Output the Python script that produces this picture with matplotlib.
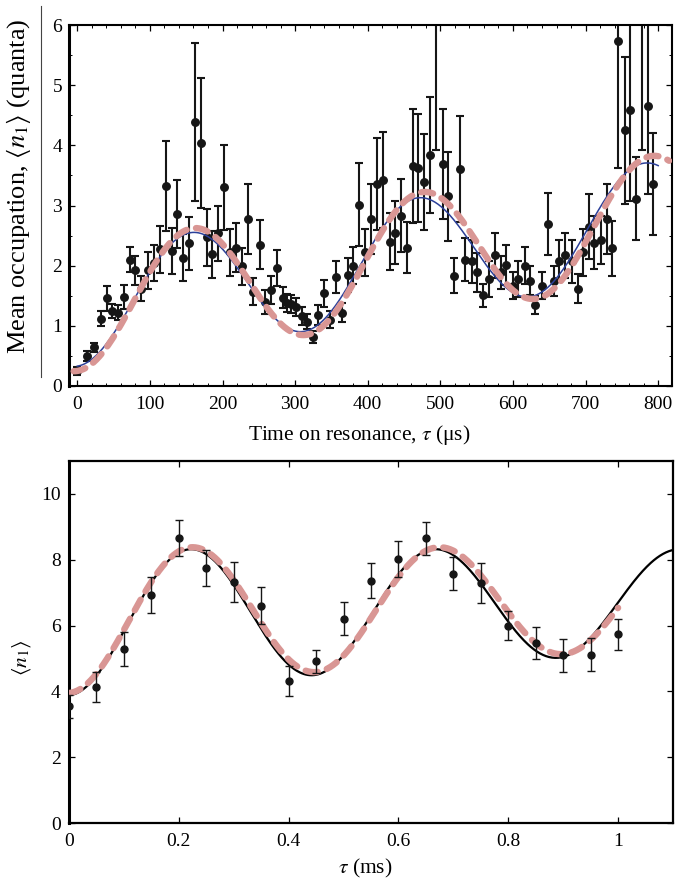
import numpy as np
import matplotlib
matplotlib.use("Agg")
import matplotlib.pyplot as plt
from matplotlib.ticker import MultipleLocator, FixedLocator
from matplotlib.lines import Line2D

plt.rcParams['font.family'] = ['Liberation Serif', 'DejaVu Serif']
plt.rcParams['mathtext.fontset'] = 'stix'

# ---------------- upper panel: mean occupation vs. time on resonance ----------------
tau_us = [0, 14, 23, 32, 41, 48, 56, 64, 73, 80, 88, 98, 105, 114, 122, 130, 138, 146,
          154, 162, 170, 178, 186, 194, 202, 210, 218, 227, 235, 242, 251, 259, 267,
          275, 283, 289, 295, 301, 309, 316, 324, 332, 340, 348, 356, 364, 373, 380,
          388, 396, 404, 413, 421, 430, 437, 446, 454, 462, 469, 478, 486, 494, 503,
          511, 519, 527, 534, 543, 551, 559, 567, 575, 583, 591, 600, 607, 616, 623,
          631, 640, 648, 656, 664, 672, 681, 689, 697, 705, 712, 721, 729, 737, 745,
          754, 761, 770, 778, 786, 793]
n_top = [0.25, 0.50, 0.64, 1.12, 1.46, 1.25, 1.22, 1.48, 2.10, 1.92, 1.62, 1.92, 2.05,
         2.27, 3.32, 2.24, 2.86, 2.13, 2.37, 4.39, 4.04, 2.47, 2.19, 2.54, 3.30, 2.22,
         2.30, 1.99, 2.78, 1.57, 2.35, 1.40, 1.59, 1.96, 1.47, 1.38, 1.36, 1.32, 1.17,
         1.07, 0.81, 1.18, 1.54, 1.10, 1.81, 1.22, 1.84, 2.00, 3.01, 2.22, 2.78, 3.36,
         3.42, 2.40, 2.55, 2.83, 2.30, 3.66, 3.62, 3.39, 3.84, 6.40, 3.69, 3.15, 1.83,
         3.60, 2.10, 2.07, 1.89, 1.51, 1.78, 2.17, 1.89, 2.01, 1.67, 1.78, 2.00, 1.75,
         1.34, 1.67, 2.69, 1.75, 2.08, 2.17, 2.07, 1.62, 2.22, 2.65, 2.38, 2.43, 2.77,
         2.29, 5.73, 4.25, 4.58, 3.11, 6.30, 4.66, 3.36]
n_top_err = [0.06, 0.08, 0.08, 0.13, 0.21, 0.12, 0.13, 0.20, 0.21, 0.24, 0.21, 0.30, 0.30,
             0.39, 0.75, 0.38, 0.56, 0.39, 0.44, 1.31, 1.08, 0.47, 0.39, 0.46, 0.70, 0.39,
             0.41, 0.31, 0.58, 0.22, 0.41, 0.20, 0.23, 0.30, 0.18, 0.15, 0.15, 0.15, 0.15,
             0.12, 0.10, 0.16, 0.22, 0.14, 0.27, 0.16, 0.28, 0.31, 0.69, 0.39, 0.58, 0.77,
             0.80, 0.48, 0.52, 0.61, 0.42, 0.95, 0.90, 0.80, 0.97, 2.47, 0.92, 0.74, 0.29,
             0.88, 0.36, 0.35, 0.32, 0.19, 0.30, 0.37, 0.27, 0.33, 0.22, 0.30, 0.31, 0.24,
             0.15, 0.22, 0.51, 0.25, 0.35, 0.37, 0.35, 0.24, 0.39, 0.54, 0.44, 0.40, 0.58,
             0.46, 2.11, 1.22, 1.50, 0.69, 2.38, 1.47, 0.85]

# heating + sideband-exchange fit: n(t) = a + b t + A (1 - cos(2 pi t / P)) / 2
fit_solid_top = dict(a=0.33, b=0.00185, A=1.93, P=312.0, t0=0.0, t1=800.0)
fit_dashed_top = dict(a=0.25, b=0.0019, A=2.07, P=316.0, t0=-5.0, t1=815.0)

# ---------------- lower panel ----------------
tau_ms = [0.0, 0.05, 0.10, 0.15, 0.20, 0.25, 0.30, 0.35, 0.40, 0.45, 0.50,
          0.55, 0.60, 0.65, 0.70, 0.75, 0.80, 0.85, 0.90, 0.95, 1.00]
n_bot = [3.55, 4.14, 5.29, 6.93, 8.66, 7.74, 7.32, 6.60, 4.31, 4.92, 6.21,
         7.36, 8.03, 8.65, 7.58, 7.30, 6.00, 5.47, 5.10, 5.12, 5.73]
n_bot_err = [0.35, 0.46, 0.51, 0.54, 0.56, 0.55, 0.60, 0.56, 0.45, 0.35, 0.51,
             0.53, 0.55, 0.50, 0.51, 0.61, 0.43, 0.50, 0.50, 0.50, 0.46]

# damped exchange model: n(t) = n_max - D exp(-t/T) (1 + cos(2 pi t / P)) / 2
fit_solid_bot = dict(n_max=8.32, D=4.44, T=3.0, P=0.445, t0=0.0, t1=1.1)
fit_dashed_bot = dict(n_max=8.38, D=4.43, T=2.9, P=0.450, t0=0.0, t1=1.0)

top_xticks = [0, 100, 200, 300, 400, 500, 600, 700, 800]
top_yticks = [0, 1, 2, 3, 4, 5, 6]
bot_xticks = [0, 0.2, 0.4, 0.6, 0.8, 1.0]
bot_xticklabels = ['0', '0.2', '0.4', '0.6', '0.8', '1']
bot_yticks = [0, 2, 4, 6, 8, 10]


def heating_model(p, n=600):
    t = np.linspace(p['t0'], p['t1'], n)
    return t, p['a'] + p['b'] * t + p['A'] * (1 - np.cos(2 * np.pi * t / p['P'])) / 2


def damped_model(p, n=600):
    t = np.linspace(p['t0'], p['t1'], n)
    return t, p['n_max'] - p['D'] * np.exp(-t / p['T']) * (1 + np.cos(2 * np.pi * t / p['P'])) / 2


W, H = 678, 882
fig = plt.figure(figsize=(W / 100, H / 100), dpi=100)

def axes_px(left, top, right, bottom):
    return fig.add_axes([left / W, 1 - bottom / H, (right - left) / W, (bottom - top) / H])

pink = '#d99694'
ink = '#161616'
fs_tick = 14
fs_lab = 15.4

# upper panel
ax1 = axes_px(69, 25, 672, 386)
t, y = heating_model(fit_solid_top)
ax1.plot(t, y, color='#2b3f99', lw=1.1, zorder=3)
t, y = heating_model(fit_dashed_top)
ax1.plot(t, y, color=pink, lw=4.6, dashes=(1.9, 1.5), dash_capstyle='round', zorder=4)
ax1.errorbar(tau_us, n_top, yerr=n_top_err, fmt='o', color=ink, ms=5.4,
             elinewidth=1.5, capsize=3.0, capthick=1.5, zorder=2)
ax1.set_xlim(-11.4, 819)
ax1.set_ylim(0, 6)
ax1.xaxis.set_major_locator(FixedLocator(top_xticks))
ax1.xaxis.set_minor_locator(MultipleLocator(20))
ax1.yaxis.set_major_locator(FixedLocator(top_yticks))
ax1.yaxis.set_minor_locator(MultipleLocator(0.5))
ax1.tick_params(which='both', direction='in', top=True, right=True, labelsize=fs_tick)
ax1.tick_params(which='major', length=4.5, width=0.9)
ax1.tick_params(which='minor', length=2.5, width=0.7)
ax1.tick_params(axis='x', pad=7)
ax1.tick_params(axis='y', pad=5)
for s in ax1.spines.values():
    s.set_linewidth(1.5)
ax1.spines['left'].set_linewidth(2.2)
ax1.set_xlabel(r'Time on resonance, $\tau$ (μs)', fontsize=fs_lab)
ax1.set_ylabel(r'Mean occupation, $\langle n_1\rangle$ (quanta)', fontsize=19)
ax1.xaxis.set_label_coords(0.482, -0.102)
ax1.yaxis.set_label_coords(-0.060, 0.554)

# thin rule left of the upper panel
fig.add_artist(Line2D([40.7 / W, 40.7 / W], [1 - 6 / H, 1 - 377 / H],
                      color='#444444', lw=0.8))

# lower panel
ax2 = axes_px(69, 461, 673, 823)
t, y = damped_model(fit_solid_bot)
ax2.plot(t, y, color='black', lw=1.6, zorder=3)
t, y = damped_model(fit_dashed_bot)
ax2.plot(t, y, color=pink, lw=4.6, dashes=(1.9, 1.5), dash_capstyle='round', zorder=4)
ax2.errorbar(tau_ms, n_bot, yerr=n_bot_err, fmt='o', color=ink, ms=5.0,
             elinewidth=1.0, capsize=2.6, capthick=1.0, zorder=5)
ax2.set_xlim(0, 1.1)
ax2.set_ylim(0, 11)
ax2.set_xticks(bot_xticks)
ax2.set_xticklabels(bot_xticklabels)
ax2.set_yticks(bot_yticks)
ax2.tick_params(direction='in', top=True, right=True, labelsize=fs_tick,
                length=4.5, width=0.9)
ax2.tick_params(axis='x', pad=7)
ax2.tick_params(axis='y', pad=6)
for s in ax2.spines.values():
    s.set_linewidth(1.6)
ax2.spines['left'].set_linewidth(2.2)
ax2.set_xlabel(r'$\tau$ (ms)', fontsize=fs_lab)
ax2.set_ylabel(r'$\langle n_1\rangle$', fontsize=fs_lab)
ax2.xaxis.set_label_coords(0.49, -0.093)
ax2.yaxis.set_label_coords(-0.060, 0.456)

fig.savefig('out.png', dpi=100)
